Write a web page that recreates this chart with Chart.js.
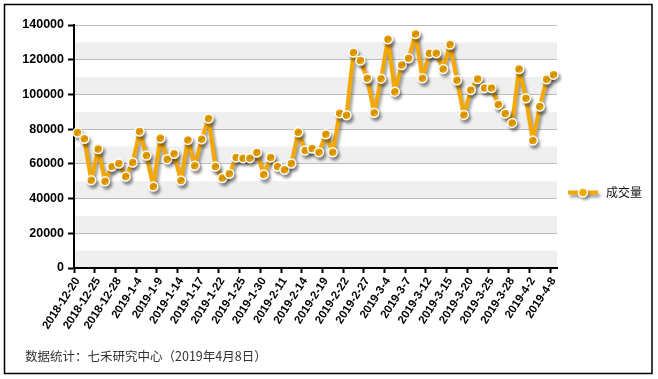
<!DOCTYPE html>
<html>
<head>
<meta charset="utf-8">
<script src="https://cdn.jsdelivr.net/npm/chart.js@4/dist/chart.umd.min.js"></script>
<style>
html,body{margin:0;padding:0;background:#fff;}
#wrap{position:absolute;left:0;top:0;width:658px;height:379px;}
</style>
</head>
<body>
<div id="wrap"><canvas id="c" width="658" height="379"></canvas></div>
<script>
const dates = [
 '2018-12-20','2018-12-21','2018-12-24','2018-12-25','2018-12-26','2018-12-27','2018-12-28',
 '2019-1-2','2019-1-3','2019-1-4','2019-1-7','2019-1-8','2019-1-9','2019-1-10','2019-1-11',
 '2019-1-14','2019-1-15','2019-1-16','2019-1-17','2019-1-18','2019-1-21','2019-1-22','2019-1-23',
 '2019-1-24','2019-1-25','2019-1-28','2019-1-29','2019-1-30','2019-1-31','2019-2-1',
 '2019-2-11','2019-2-12','2019-2-13','2019-2-14','2019-2-15','2019-2-18','2019-2-19','2019-2-20',
 '2019-2-21','2019-2-22','2019-2-25','2019-2-26','2019-2-27','2019-2-28','2019-3-1',
 '2019-3-4','2019-3-5','2019-3-6','2019-3-7','2019-3-8','2019-3-11','2019-3-12','2019-3-13',
 '2019-3-14','2019-3-15','2019-3-18','2019-3-19','2019-3-20','2019-3-21','2019-3-22',
 '2019-3-25','2019-3-26','2019-3-27','2019-3-28','2019-3-29','2019-4-1','2019-4-2',
 '2019-4-3','2019-4-4','2019-4-8'
];
const volume = [
 78000,74400,50500,68600,50000,58500,60200,52700,60800,78600,
 64800,47000,74800,62700,65800,50400,73800,58900,74200,86100,
 58500,51800,54300,63700,63300,63300,66500,53900,63700,58500,
 56600,60200,78200,67700,68800,66700,77100,66700,89200,88000,
 124100,119500,109300,89400,109100,131800,101600,117000,120800,134800,
 109300,123700,123700,114700,128700,108200,88200,102600,108900,103700,
 103700,94200,89000,83600,114700,97800,73400,93000,108700,111400
];
const seriesName = '成交量';
const footnote = '数据统计：七禾研究中心（2019年4月8日）';
const yMin = 0, yMax = 140000, yMajor = 20000, yMinor = 10000;
const labelEvery = 3;

const ORANGE = '#F5A800';

const decor = {
  id: 'decor',
  beforeDraw(chart) {
    const {ctx, chartArea: a, scales: {y}} = chart;
    ctx.save();
    for (let v = yMin; v < yMax; v += yMinor) {
      const idx = Math.round((yMax - v - yMinor) / yMinor);
      if (idx % 2 === 1) {
        const top = y.getPixelForValue(v + yMinor), bot = y.getPixelForValue(v);
        ctx.fillStyle = '#efefef';
        ctx.fillRect(a.left, top, a.right - a.left, bot - top);
      }
    }
    ctx.restore();
  },
  beforeDatasetDraw(chart) {
    const ctx = chart.ctx;
    ctx.save();
    ctx.shadowColor = 'rgba(0,0,0,0.38)';
    ctx.shadowOffsetX = 2;
    ctx.shadowOffsetY = 3;
    ctx.shadowBlur = 3;
  },
  afterDatasetDraw(chart) {
    chart.ctx.restore();
  },
  afterDraw(chart) {
    const ctx = chart.ctx;
    ctx.save();
    ctx.strokeStyle = '#000';
    ctx.lineWidth = 1.5;
    ctx.strokeRect(4.5, 4.5, 647.5, 369);
    ctx.shadowColor = 'rgba(0,0,0,0.38)';
    ctx.shadowOffsetX = 2; ctx.shadowOffsetY = 3; ctx.shadowBlur = 3;
    ctx.strokeStyle = ORANGE; ctx.lineWidth = 4; ctx.lineCap = 'butt';
    ctx.beginPath(); ctx.moveTo(568, 192.5); ctx.lineTo(598, 192.5); ctx.stroke();
    ctx.beginPath(); ctx.arc(583, 192.5, 4.5, 0, Math.PI * 2);
    ctx.fillStyle = ORANGE; ctx.fill();
    ctx.shadowColor = 'transparent';
    ctx.strokeStyle = '#fff'; ctx.lineWidth = 1.5; ctx.stroke();
    ctx.fillStyle = '#111';
    ctx.font = '12px "Noto Sans CJK SC", sans-serif';
    ctx.textBaseline = 'middle'; ctx.textAlign = 'left';
    ctx.fillText(seriesName, 606, 192.5);
    ctx.fillStyle = '#333';
    ctx.font = '12.5px "Noto Sans CJK SC", sans-serif';
    ctx.fillText(footnote, 25, 356);
    ctx.restore();
  }
};

new Chart(document.getElementById('c'), {
  type: 'line',
  data: {
    labels: dates,
    datasets: [{
      label: seriesName,
      data: volume,
      borderColor: ORANGE,
      borderWidth: 4,
      borderJoinStyle: 'round',
      backgroundColor: ORANGE,
      pointBackgroundColor: ORANGE,
      pointBorderColor: '#fff',
      pointBorderWidth: 1.5,
      pointRadius: 4.5,
      tension: 0,
      fill: false
    }]
  },
  options: {
    responsive: false,
    animation: false,
    devicePixelRatio: 1,
    layout: { padding: { left: 0, right: 101, top: 25, bottom: 0 } },
    plugins: { legend: { display: false }, tooltip: { enabled: false } },
    scales: {
      x: {
        type: 'category',
        offset: true,
        grid: {
          offset: true,
          drawOnChartArea: false,
          drawTicks: true,
          tickLength: 5,
          tickWidth: 2,
          tickColor: c => (c.index % labelEvery === 0 ? '#000' : 'rgba(0,0,0,0)')
        },
        border: { display: true, color: '#000', width: 2 },
        ticks: {
          autoSkip: false,
          maxRotation: 57,
          minRotation: 57,
          padding: 2,
          color: '#000',
          font: { family: '"Liberation Sans", Arial, sans-serif', size: 11.5, weight: 'bold' },
          callback: function(v, i) { return i % labelEvery === 0 ? this.getLabelForValue(v) : ''; }
        },
        afterFit: s => { s.height = 111; }
      },
      y: {
        min: yMin, max: yMax,
        grid: {
          color: '#bdbdbd',
          lineWidth: 1,
          drawTicks: true,
          tickLength: 6,
          tickWidth: 2,
          tickColor: c => (c.tick && c.tick.value % yMajor === 0 ? '#000' : 'rgba(0,0,0,0)')
        },
        border: { display: true, color: '#000', width: 2 },
        ticks: {
          stepSize: yMinor,
          padding: 4,
          color: '#000',
          font: { family: '"Liberation Sans", Arial, sans-serif', size: 12.5, weight: 'bold' },
          callback: v => (v % yMajor === 0 ? String(v) : '')
        },
        afterFit: s => { s.width = 74; }
      }
    }
  },
  plugins: [decor]
});
</script>
</body>
</html>
